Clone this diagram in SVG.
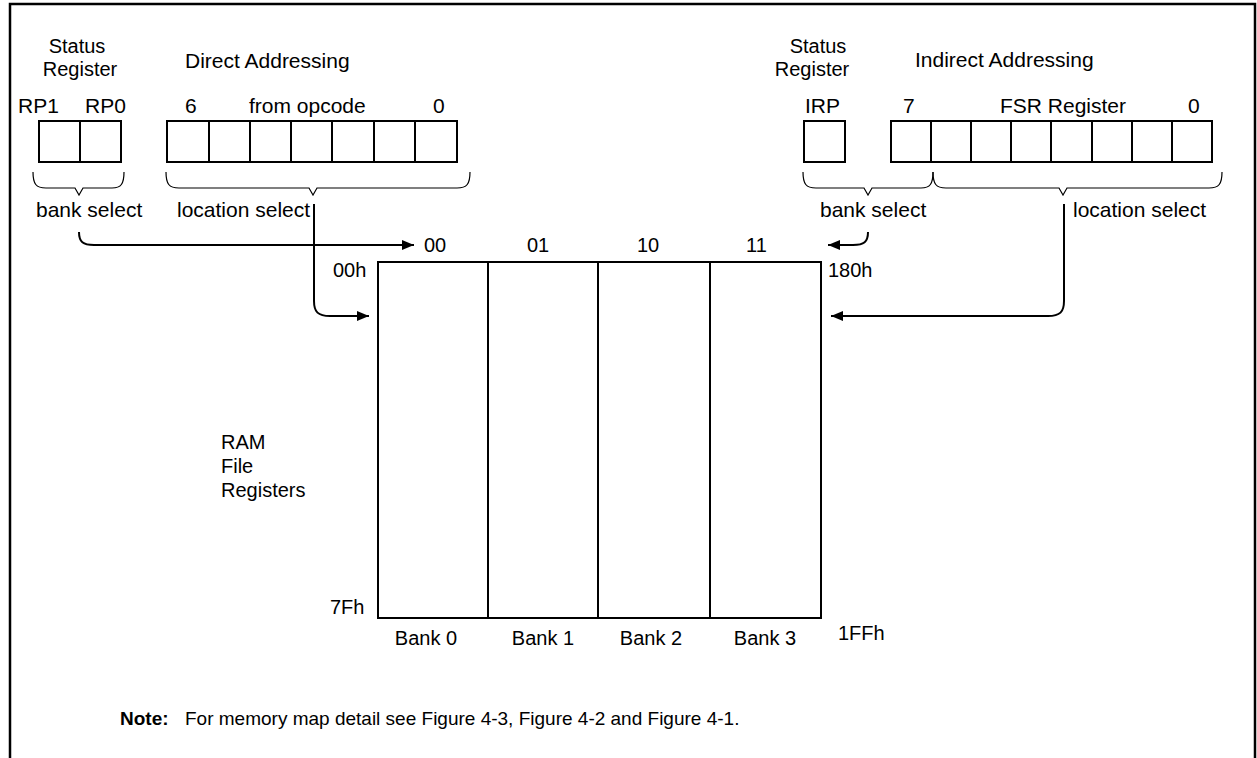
<svg xmlns="http://www.w3.org/2000/svg" width="1257" height="758" viewBox="0 0 1257 758">
<defs>
<style>
text{font-family:"Liberation Sans",Arial,sans-serif;font-size:20px;fill:#000}
.t{font-size:21px}
.m{text-anchor:middle}
.box{fill:none;stroke:#000;stroke-width:2}
.br{fill:none;stroke:#000;stroke-width:1.2}
.ln{fill:none;stroke:#000;stroke-width:2}
.frame{fill:none;stroke:#000;stroke-width:2.5}
.note{font-size:19px}
</style>
<marker id="ah" viewBox="0 0 12 10" refX="12" refY="5" markerWidth="12" markerHeight="10" markerUnits="userSpaceOnUse" orient="auto">
<path d="M0,0 L12,5 L0,10 Z" fill="#000"/>
</marker>
</defs>
<rect width="1257" height="758" fill="#fff"/>
<path class="frame" d="M10,760 L10,4 L1255,4 L1255,760"/>

<g id="status-left">
<text class="m" x="77" y="53">Status</text>
<text class="m" x="80" y="76">Register</text>
<text class="t" x="18" y="113">RP1</text>
<text class="t" x="85" y="113">RP0</text>
<rect class="box" x="39" y="121" width="41" height="41"/>
<rect class="box" x="80" y="121" width="41" height="41"/>
<path class="br" d="M33,172 C33,184 36,188 46,188 L75,188 L79,195 L83,188 L112,188 C121,188 124,184 124,172"/>
<text class="t" x="36" y="217">bank select</text>
</g>

<g id="direct">
<text class="t" x="185" y="68">Direct Addressing</text>
<text class="t" x="185" y="113">6</text>
<text class="t" x="249" y="113">from opcode</text>
<text class="t" x="433" y="113">0</text>
<rect class="box" x="167" y="121" width="290" height="41"/>
<path class="ln" d="M209,121 V162 M250,121 V162 M291,121 V162 M332,121 V162 M374,121 V162 M415,121 V162"/>
<path class="br" d="M166,172 C166,184 169,188 179,188 L309,188 L313,195 L317,188 L457,188 C467,188 470,184 470,172"/>
<text class="t" x="177" y="217">location select</text>
</g>

<g id="status-right">
<text class="m" x="818" y="53">Status</text>
<text class="m" x="812" y="76">Register</text>
<text class="t" x="805" y="113">IRP</text>
<rect class="box" x="804" y="121" width="41" height="41"/>
<path class="br" d="M803,172 C803,184 806,188 816,188 L864,188 L868,195 L872,188 L921,188 C930,188 933,184 933,172"/>
<text class="t" x="820" y="217">bank select</text>
</g>

<g id="indirect">
<text class="t" x="915" y="67">Indirect Addressing</text>
<text class="t" x="903" y="113">7</text>
<text class="t" x="1000" y="113">FSR Register</text>
<text class="t" x="1188" y="113">0</text>
<rect class="box" x="891" y="121" width="321" height="41"/>
<path class="ln" d="M931,121 V162 M971,121 V162 M1011,121 V162 M1051,121 V162 M1092,121 V162 M1132,121 V162 M1172,121 V162"/>
<path class="br" d="M933,172 C933,184 936,188 946,188 L1059,188 L1063,195 L1067,188 L1209,188 C1219,188 1222,184 1222,172"/>
<text class="t" x="1073" y="217">location select</text>
</g>

<g id="ram">
<rect class="box" x="378" y="262" width="443" height="356"/>
<path class="ln" d="M488,262 V618 M598,262 V618 M710,262 V618"/>
<text x="424" y="252">00</text>
<text x="527" y="252">01</text>
<text x="637" y="252">10</text>
<text x="746" y="252">11</text>
<text x="333" y="277">00h</text>
<text x="828" y="277">180h</text>
<text x="330" y="614">7Fh</text>
<text x="838" y="640">1FFh</text>
<text class="m" x="426" y="645">Bank 0</text>
<text class="m" x="543" y="645">Bank 1</text>
<text class="m" x="651" y="645">Bank 2</text>
<text class="m" x="765" y="645">Bank 3</text>
<text x="221" y="449">RAM</text>
<text x="221" y="473">File</text>
<text x="221" y="497">Registers</text>
</g>

<g id="connectors">
<path class="ln" marker-end="url(#ah)" d="M79,232 C79,242 83,245 94,245 L414,245"/>
<path class="ln" marker-end="url(#ah)" d="M314,204 L314,301 C314,312 318,316 330,316 L369,316"/>
<path class="ln" marker-end="url(#ah)" d="M868,232 C868,242 864,245 853,245 L828,245"/>
<path class="ln" marker-end="url(#ah)" d="M1064,204 L1064,301 C1064,312 1060,316 1048,316 L831,316"/>
</g>

<g id="note">
<text class="note" x="120" y="725" font-weight="bold">Note:</text>
<text class="note" x="185" y="725">For memory map detail see Figure 4-3, Figure 4-2 and Figure 4-1.</text>
</g>
</svg>
